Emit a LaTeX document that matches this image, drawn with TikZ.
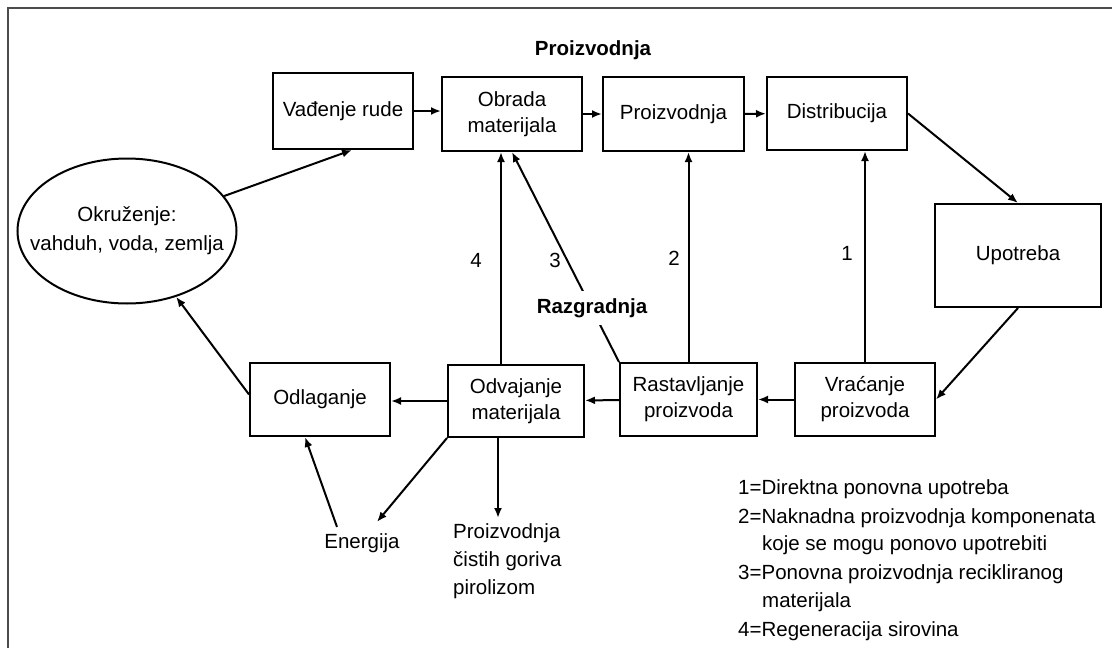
\documentclass[tikz,border=0pt]{standalone}
\usepackage{fontspec}
\setmainfont{Liberation Sans}
\usetikzlibrary{shapes.geometric,arrows.meta,calc}
\begin{document}
\begin{tikzpicture}[x=1pt,y=-1pt,
  every node/.style={font=\fontsize{20.5}{26}\selectfont},
  boldtxt/.style={font=\fontsize{20.5}{26}\selectfont\bfseries},
  box/.style={draw, line width=2pt, inner sep=0pt, align=center},
  arr/.style={line width=2pt, -{Latex[length=10pt,width=8pt]}},
  legend/.style={anchor=base west, inner sep=0pt}]
\useasboundingbox (0,0) rectangle (1112,648);
\fill[white] (0,0) rectangle (1112,648);
% frame
\draw[line width=1.3pt, black!70] (8,648) -- (8,8) -- (1112,8);

% title
\node[boldtxt] (title) at (593,50) {Proizvodnja};

% top row
\node[box, minimum width=140pt, minimum height=76pt] (vad) at (343,111) {Vađenje rude};
\node[box, minimum width=140pt, minimum height=74pt] (obr) at (512,114) {Obrada\\materijala};
\node[box, minimum width=141pt, minimum height=74pt] (pro) at (673.5,114) {Proizvodnja};
\node[box, minimum width=140pt, minimum height=73pt] (dis) at (837,113.5) {Distribucija};
\node[box, minimum width=166pt, minimum height=103pt] (upo) at (1018,255.5) {Upotreba};

% environment
\node[draw, ellipse, line width=2pt, minimum width=219pt, minimum height=145pt,
      inner xsep=-20pt, inner ysep=0pt, align=center, font=\fontsize{20.5}{29}\selectfont] (env) at (127,231)
      {Okruženje:\\vahduh, voda, zemlja};

% bottom row
\node[box, minimum width=140pt, minimum height=73pt] (odl) at (320,399.5) {Odlaganje};
\node[box, minimum width=136pt, minimum height=72pt] (odv) at (516,401) {Odvajanje\\materijala};
\node[box, minimum width=137pt, minimum height=73pt] (ras) at (688.5,399.5) {Rastavljanje\\proizvoda};
\node[box, minimum width=140pt, minimum height=73pt] (vra) at (865,399.5) {Vraćanje\\proizvoda};

% outputs
\node (en) at (362,543) {Energija};
\node[align=left, anchor=north west, inner sep=0pt, font=\fontsize{20.5}{28}\selectfont] (pir) at (453,523)
  {Proizvodnja\\čistih goriva\\pirolizom};

% numbers
\node (n4) at (476,260) {4};
\node (n3) at (555,260) {3};
\node (n2) at (674,258) {2};
\node (n1) at (847,253) {1};

% helper coordinates
\coordinate (l4x) at (501,0);
\coordinate (dx) at (498,0);

% main flow
\draw[arr] (vad.east) -- (obr.west |- vad.east);
\draw[arr] (obr) -- (pro);
\draw[arr] (pro) -- (dis);
\draw[arr] (dis.east) -- (upo.north);
\draw[arr] (upo.south) -- (vra.east);
\draw[arr] (vra) -- (ras);
\draw[arr] (ras) -- (odv);
\draw[arr] (odv.west) -- (odl.east |- odv.west);
\draw[arr] ($(odl.west)+(0,-5)$) -- (env);
\draw[arr] (env) -- ($(vad.south)+(9,0)$);

% return loops
\draw[arr] (odv.north -| l4x) -- (obr.south -| l4x);
\draw[arr] (ras.north west) -- (obr.south);
\draw[arr] (ras.north) -- (pro.south -| ras.north);
\draw[arr] (vra.north) -- (dis.south -| vra.north);
\node[boldtxt, fill=white, inner xsep=1pt, inner ysep=7pt] (raz) at (592,308) {Razgradnja};

% outputs of separation
\draw[arr] (odv.south -| dx) -- ($(pir.north -| dx)+(0,-5)$);
\draw[arr] (odv.south west) -- ($(en.north)+(15,-8)$);
\draw[arr] ($(en.north)+(-25,-3)$) -- ($(odl.south)+(-15,0)$);

% legend
\node[legend] (lg1) at (738,494) {1=Direktna ponovna upotreba};
\node[legend] (lg2) at (738,523) {2=Naknadna proizvodnja komponenata};
\node[legend] (lg3) at (762,550) {koje se mogu ponovo upotrebiti};
\node[legend] (lg4) at (738,579) {3=Ponovna proizvodnja recikliranog};
\node[legend] (lg5) at (762,607) {materijala};
\node[legend] (lg6) at (738,636) {4=Regeneracija sirovina};
\end{tikzpicture}
\end{document}
